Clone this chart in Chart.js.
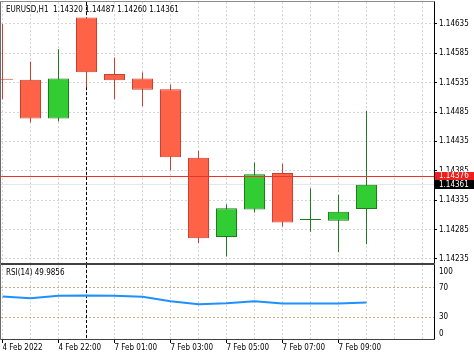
<!DOCTYPE html>
<html><head><meta charset="utf-8">
<script src="https://cdn.jsdelivr.net/npm/chart.js@4.4.1/dist/chart.umd.min.js"></script>
<style>
html,body{margin:0;padding:0;background:#fff;overflow:hidden}
#wrap{position:relative;width:474px;height:358px;background:#fff}
#main{position:absolute;left:0;top:0}
#rsi{position:absolute;left:0;top:264px}
</style></head><body>
<div id="wrap"><canvas id="main" width="474" height="264"></canvas><canvas id="rsi" width="474" height="94"></canvas></div>
<script>
// ---- data ----
const symbolTitle = 'EURUSD,H1';
const opens  = [1.14541, 1.14540, 1.14474, 1.14646, 1.14550, 1.14542, 1.14524, 1.14407, 1.14272, 1.14319, 1.14381, 1.14301, 1.14300, 1.14320];
const highs  = [1.14635, 1.14571, 1.14592, 1.14647, 1.14578, 1.14553, 1.14532, 1.14419, 1.14328, 1.14399, 1.14397, 1.14355, 1.14344, 1.14487];
const lows   = [1.14507, 1.14467, 1.14469, 1.14527, 1.14507, 1.14495, 1.14386, 1.14262, 1.14239, 1.14314, 1.14290, 1.14281, 1.14246, 1.14260];
const closes = [1.14540, 1.14474, 1.14542, 1.14553, 1.14539, 1.14523, 1.14408, 1.14270, 1.14321, 1.14379, 1.14297, 1.14301, 1.14315, 1.14361];
const priceTicks = [1.14235, 1.14285, 1.14335, 1.14385, 1.14435, 1.14485, 1.14535, 1.14585, 1.14635];
const askPrice = 1.14376;
const bidPrice = 1.14361;
const rsiName = 'RSI(14)';
const rsiValues = [57.9, 55.6, 59.1, 59.5, 58.9, 57.8, 51.4, 47.4, 48.8, 51.5, 48.6, 48.5, 48.5, 49.9856];
const rsiLevels = [30, 70];
const rsiAxisLabels = [0, 30, 70, 100];
const timeTickIdx = [0, 2, 4, 6, 8, 10, 12];
const timeTickLabels = ['4 Feb 2022', '4 Feb 22:00', '7 Feb 01:00', '7 Feb 03:00', '7 Feb 05:00', '7 Feb 07:00', '7 Feb 09:00'];
const slotCount = 16;
const crosshairIdx = 3;

// ---- styling ----
const FONT = "'DejaVu Sans Condensed', 'Liberation Sans', sans-serif";
Chart.defaults.font.family = FONT;
Chart.defaults.font.size = 8;
Chart.defaults.color = '#000';
const gridColor = '#d6d6d6';
const gridDash = [2, 2];
const X_MIN = -0.0536, X_MAX = 15.41;
const Y_MAX = 1.14635 + 22 / 58700;
const Y_MIN = Y_MAX - 261 / 58700;

const idx = opens.map((_, i) => i);
const bull = idx.map(i => closes[i] >= opens[i]);
const bodyFill = bull.map(b => b ? '#32CD32' : '#FF6347');
const bodyEdge = bull.map(b => b ? '#1F7A1F' : '#C8412E');

const slotTicks = s => { s.ticks = []; for (let v = 0; v < slotCount; v++) s.ticks.push({value: v}); };
const fitY = s => { s.width = 40; s.paddingTop = 0; s.paddingBottom = 0; };

function crosshair(chart) {
  const {ctx, chartArea: a, scales: {x}} = chart;
  const xc = Math.round(x.getPixelForValue(crosshairIdx) - 0.5) + 0.5;
  ctx.save();
  ctx.setLineDash([3, 2]);
  ctx.strokeStyle = '#000';
  ctx.lineWidth = 1;
  ctx.beginPath(); ctx.moveTo(xc, a.top); ctx.lineTo(xc, a.bottom); ctx.stroke();
  ctx.restore();
}
function hLine(ctx, a, py, color) {
  const yy = Math.round(py - 0.5) + 0.5;
  ctx.setLineDash([]);
  ctx.strokeStyle = color; ctx.lineWidth = 1;
  ctx.beginPath(); ctx.moveTo(a.left, yy); ctx.lineTo(a.right, yy); ctx.stroke();
}
function frame(ctx, a, topColor) {
  ctx.lineWidth = 1;
  ctx.setLineDash([]);
  ctx.strokeStyle = topColor;
  ctx.beginPath(); ctx.moveTo(a.left - 0.5, a.top - 0.5); ctx.lineTo(a.right + 0.5, a.top - 0.5); ctx.stroke();
  ctx.strokeStyle = '#6a6a6a';
  ctx.beginPath(); ctx.moveTo(a.left - 0.5, a.top - 0.5); ctx.lineTo(a.left - 0.5, a.bottom + 0.5); ctx.stroke();
  ctx.strokeStyle = '#404040';
  ctx.beginPath(); ctx.moveTo(a.left - 0.5, a.bottom + 0.5); ctx.lineTo(a.right + 0.5, a.bottom + 0.5); ctx.stroke();
  ctx.strokeStyle = '#000';
  ctx.beginPath(); ctx.moveTo(a.right + 0.5, a.top - 0.5); ctx.lineTo(a.right + 0.5, a.bottom + 0.5); ctx.stroke();
}

const mainPlugin = {
  id: 'mainDeco',
  beforeDatasetsDraw(chart) {
    const {ctx, chartArea: a, scales: {y}} = chart;
    ctx.save(); hLine(ctx, a, y.getPixelForValue(bidPrice), '#e6e6e6'); ctx.restore();
    crosshair(chart);
  },
  afterDatasetsDraw(chart) {
    const {ctx, chartArea: a, scales: {y}} = chart;
    ctx.save(); hLine(ctx, a, y.getPixelForValue(askPrice), '#E8352C'); ctx.restore();
  },
  afterDraw(chart) {
    const {ctx, chartArea: a, scales: {y}} = chart;
    ctx.save();
    frame(ctx, a, '#8c8c8c');
    const last = opens.length - 1;
    ctx.font = '8px ' + FONT;
    ctx.fillStyle = '#000';
    ctx.textBaseline = 'middle';
    ctx.textAlign = 'left';
    ctx.fillText(symbolTitle + '  ' + [opens[last], highs[last], lows[last], closes[last]].map(v => v.toFixed(5)).join(' '), 6, a.top + 8);
    const boxes = [[askPrice, '#F01E1E'], [bidPrice, '#000']];
    boxes.forEach(([v, c]) => {
      const py = y.getPixelForValue(v);
      ctx.fillStyle = c;
      ctx.fillRect(a.right + 1, Math.round(py - 4.5), chart.width - a.right - 1, 9);
      ctx.fillStyle = '#fff';
      ctx.fillText(v.toFixed(5), a.right + 5, py);
    });
    ctx.restore();
  }
};

new Chart(document.getElementById('main'), {
  type: 'bar',
  data: {datasets: [
    {label: 'wick', data: idx.map(i => ({x: i, y: [lows[i], highs[i]]})), backgroundColor: bodyEdge, borderWidth: 0,
     barThickness: 1, grouped: false, inflateAmount: 0, order: 2},
    {label: 'body', data: idx.map(i => ({x: i, y: [Math.min(opens[i], closes[i]), Math.max(opens[i], closes[i])]})),
     backgroundColor: bodyFill, borderColor: bodyEdge, borderWidth: 1, borderSkipped: false, barThickness: 21,
     minBarLength: 1, grouped: false, inflateAmount: 0, order: 1}
  ]},
  options: {
    responsive: false, animation: false, devicePixelRatio: 1,
    layout: {padding: {left: 1, top: 2, right: 0, bottom: 1}},
    plugins: {legend: {display: false}, tooltip: {enabled: false}},
    scales: {
      x: {type: 'linear', min: X_MIN, max: X_MAX, offset: false, bounds: 'data',
          afterBuildTicks: slotTicks, afterFit: s => { s.height = 0; s.paddingLeft = 0; s.paddingRight = 0; },
          ticks: {display: false},
          grid: {color: gridColor, drawTicks: false, offset: false, borderDash: gridDash},
          border: {display: false, dash: gridDash}},
      y: {position: 'right', min: Y_MIN, max: Y_MAX, bounds: 'data', beginAtZero: false,
          afterBuildTicks: s => { s.ticks = priceTicks.map(v => ({value: v})); },
          afterFit: fitY,
          ticks: {color: '#000', padding: 2, callback: v => Number(v).toFixed(5)},
          grid: {color: gridColor, tickColor: '#000', tickLength: 3, tickBorderDash: [], borderDash: gridDash},
          border: {display: false, dash: gridDash}}
    }
  },
  plugins: [mainPlugin]
});

const rsiPlugin = {
  id: 'rsiDeco',
  beforeDatasetsDraw(chart) { crosshair(chart); },
  afterDraw(chart) {
    const {ctx, chartArea: a, scales: {y}} = chart;
    ctx.save();
    frame(ctx, a, '#404040');
    ctx.font = '8px ' + FONT;
    ctx.fillStyle = '#000';
    ctx.textBaseline = 'middle';
    ctx.textAlign = 'left';
    ctx.fillText(rsiName + ' ' + rsiValues[rsiValues.length - 1].toFixed(4), 6, a.top + 8);
    rsiAxisLabels.forEach(v => {
      const py = Math.min(Math.max(y.getPixelForValue(v), a.top + 7), a.bottom - 5);
      ctx.fillText(String(v), a.right + 5, py);
    });
    ctx.restore();
  }
};

new Chart(document.getElementById('rsi'), {
  type: 'line',
  data: {datasets: [{data: idx.map(i => ({x: i, y: rsiValues[i]})), borderColor: '#1E90FF', borderWidth: 2,
                     pointRadius: 0, tension: 0, fill: false}]},
  options: {
    responsive: false, animation: false, devicePixelRatio: 1,
    layout: {padding: {left: 1, top: 1, right: 0, bottom: 0}},
    plugins: {legend: {display: false}, tooltip: {enabled: false}},
    scales: {
      x: {type: 'linear', min: X_MIN, max: X_MAX, offset: false, bounds: 'data',
          afterBuildTicks: slotTicks, afterFit: s => { s.height = 19; s.paddingLeft = 0; s.paddingRight = 0; },
          ticks: {autoSkip: false, maxRotation: 0, minRotation: 0, align: 'start', padding: 0, color: '#000',
                  callback: v => { const k = timeTickIdx.indexOf(v); return k >= 0 ? timeTickLabels[k] : ''; }},
          grid: {color: gridColor, tickLength: 4, offset: false, borderDash: gridDash,
                 tickColor: c => (c.tick && timeTickIdx.includes(c.tick.value)) ? '#000' : 'rgba(0,0,0,0)'},
          border: {display: false, dash: gridDash}},
      y: {position: 'right', min: 0, max: 101, bounds: 'data',
          afterBuildTicks: s => { s.ticks = rsiLevels.map(v => ({value: v})); },
          afterFit: fitY,
          ticks: {display: false},
          grid: {color: '#C9AB84', drawTicks: false, borderDash: gridDash},
          border: {display: false, dash: gridDash}}
    }
  },
  plugins: [rsiPlugin]
});
</script>
</body></html>
